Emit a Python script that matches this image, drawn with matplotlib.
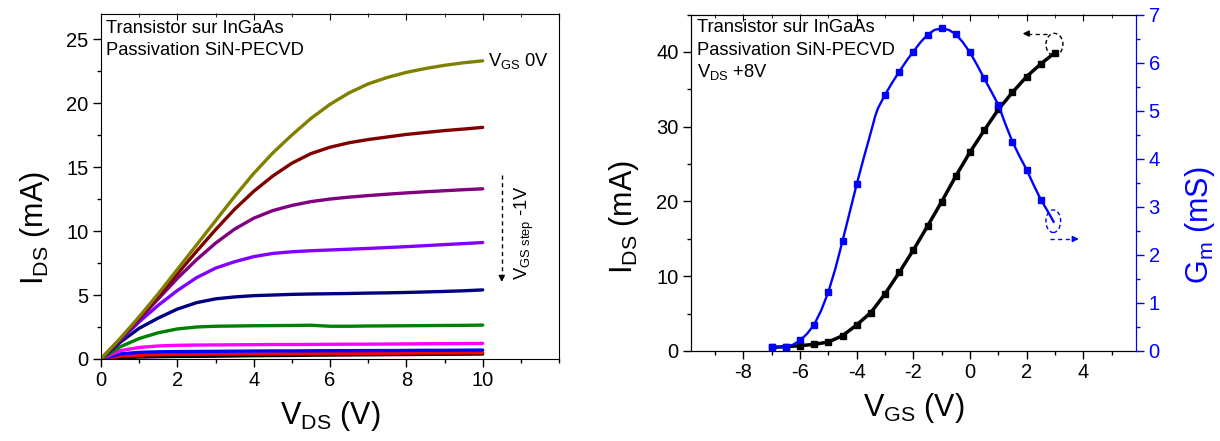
import numpy as np
import matplotlib
matplotlib.use("Agg")
import matplotlib.pyplot as plt
from matplotlib.patches import Ellipse
from matplotlib.ticker import MultipleLocator

plt.rcParams['font.family'] = ['Liberation Sans', 'DejaVu Sans']
plt.rcParams['mathtext.fontset'] = 'custom'
plt.rcParams['mathtext.rm'] = 'Liberation Sans'
plt.rcParams['mathtext.it'] = 'Liberation Sans'
plt.rcParams['axes.unicode_minus'] = False

# ---------------- Data: output characteristics (left) ----------------
vds_grid = [0, 0.5, 1, 1.5, 2, 2.5, 3, 3.5, 4, 4.5, 5, 5.5, 6, 6.5, 7, 7.5, 8, 8.5, 9, 9.5, 10]
ids_vgs0 = [0, 1.6, 3.3, 5.1, 7.0, 8.9, 10.8, 12.7, 14.5, 16.1, 17.5, 18.8, 19.9, 20.8, 21.5, 22.0, 22.4, 22.7, 22.95, 23.15, 23.3]
ids_vgs1 = [0, 1.55, 3.2, 4.9, 6.65, 8.4, 10.1, 11.7, 13.1, 14.3, 15.3, 16.05, 16.55, 16.9, 17.15, 17.35, 17.55, 17.7, 17.85, 17.97, 18.1]
ids_vgs2 = [0, 1.5, 3.1, 4.7, 6.3, 7.75, 9.05, 10.15, 11.0, 11.6, 12.0, 12.3, 12.5, 12.65, 12.77, 12.88, 12.98, 13.07, 13.15, 13.23, 13.3]
ids_vgs3 = [0, 1.45, 2.9, 4.2, 5.35, 6.35, 7.1, 7.6, 8.0, 8.25, 8.38, 8.46, 8.52, 8.58, 8.64, 8.71, 8.78, 8.86, 8.94, 9.02, 9.1]
ids_vgs4 = [0, 1.3, 2.4, 3.2, 3.9, 4.4, 4.7, 4.85, 4.95, 5.0, 5.05, 5.08, 5.1, 5.12, 5.15, 5.17, 5.2, 5.24, 5.28, 5.33, 5.4]
ids_vgs5 = [0, 0.95, 1.6, 2.05, 2.35, 2.5, 2.56, 2.58, 2.6, 2.61, 2.62, 2.64, 2.56, 2.56, 2.58, 2.59, 2.6, 2.61, 2.62, 2.63, 2.65]
ids_vgs6 = [0, 0.65, 0.9, 1.02, 1.07, 1.09, 1.1, 1.11, 1.12, 1.13, 1.13, 1.14, 1.15, 1.16, 1.16, 1.17, 1.18, 1.19, 1.2, 1.21, 1.22]
ids_vgs7 = [0, 0.4, 0.52, 0.56, 0.58, 0.59, 0.6, 0.61, 0.62, 0.63, 0.63, 0.64, 0.65, 0.65, 0.66, 0.66, 0.67, 0.68, 0.68, 0.69, 0.70]
ids_vgs8 = [0, 0.22, 0.3, 0.34, 0.36, 0.37, 0.38, 0.39, 0.4, 0.41, 0.41, 0.42, 0.43, 0.44, 0.44, 0.45, 0.46, 0.47, 0.47, 0.48, 0.49]
ids_vgs9 = [0, 0.1, 0.15, 0.18, 0.2, 0.21, 0.22, 0.24, 0.26, 0.27, 0.28, 0.3, 0.31, 0.32, 0.33, 0.34, 0.35, 0.36, 0.37, 0.38, 0.39]
out_series = [ids_vgs9, ids_vgs8, ids_vgs7, ids_vgs6, ids_vgs5, ids_vgs4, ids_vgs3, ids_vgs2, ids_vgs1, ids_vgs0]
out_colors = ['#000000', '#ff0000', '#0000ff', '#ff00ff', '#008000', '#000080', '#8000ff', '#800080', '#800000', '#808000']

# ---------------- Data: transfer characteristics (right) ----------------
vgs_ids = [-7, -6.5, -6, -5.5, -5, -4.5, -4, -3.5, -3, -2.5, -2, -1.5, -1, -0.5, 0, 0.5, 1, 1.5, 2, 2.5, 3]
ids_transfer = [0.49, 0.58, 0.71, 0.89, 1.2, 2.05, 3.49, 5.14, 7.64, 10.5, 13.5, 16.7, 19.97, 23.4, 26.6, 29.5, 32.3, 34.6, 36.7, 38.4, 39.9]

vgs_gm = [-7, -6.75, -6.5, -6.25, -6, -5.75, -5.5, -5.25, -5, -4.75, -4.5, -4.25, -4, -3.75, -3.5, -3.35, -3.25,
          -3, -2.75, -2.5, -2.25, -2, -1.75, -1.5, -1.25, -1, -0.75, -0.5, -0.25, 0, 0.25, 0.5, 0.75, 1,
          1.25, 1.5, 1.75, 2, 2.25, 2.5, 2.75, 2.95]
gm_transfer = [0.077, 0.08, 0.09, 0.13, 0.22, 0.36, 0.55, 0.85, 1.23, 1.72, 2.29, 2.88, 3.47, 4.02, 4.55, 4.88, 5.05,
               5.33, 5.58, 5.81, 6.03, 6.23, 6.42, 6.58, 6.68, 6.71, 6.68, 6.59, 6.42, 6.21, 5.95, 5.67, 5.40, 5.12,
               4.72, 4.35, 4.05, 3.77, 3.45, 3.15, 2.90, 2.69]
gm_marked_vgs = [-7, -6.5, -6, -5.5, -5, -4.5, -4, -3, -2.5, -2, -1.5, -1, -0.5, 0, 0.5, 1, 1.5, 2, 2.5]

W, H = 1220, 441
fig = plt.figure(figsize=(W / 100, H / 100), dpi=100)

def frac(x0, y0, x1, y1):
    return [x0 / W, 1 - y1 / H, (x1 - x0) / W, (y1 - y0) / H]

TICK_FS = 14.5
LABEL_FS = 22
TEXT_FS = 13.2

# ---------------- Left panel ----------------
ax1 = fig.add_axes(frac(101, 13.5, 559, 359))
for ys, c in zip(out_series, out_colors):
    ax1.plot(vds_grid, ys, color=c, lw=2.4, solid_capstyle='round', solid_joinstyle='round')
ax1.set_xlim(0, 12)
ax1.set_ylim(0, 27)
ax1.xaxis.set_major_locator(MultipleLocator(2))
ax1.xaxis.set_minor_locator(MultipleLocator(1))
ax1.yaxis.set_major_locator(MultipleLocator(5))
ax1.yaxis.set_minor_locator(MultipleLocator(2.5))
ax1.set_xticks([0, 2, 4, 6, 8, 10])
ax1.tick_params(axis='both', which='major', direction='out', length=5.5, width=1, labelsize=TICK_FS)
ax1.tick_params(axis='both', which='minor', direction='out', length=3, width=1)
ax1.set_xlabel(r'V$_{\mathregular{DS}}$ (V)', fontsize=LABEL_FS, labelpad=6)
ax1.set_ylabel(r'I$_{\mathregular{DS}}$ (mA)', fontsize=LABEL_FS)
ax1.yaxis.set_label_coords(-0.108, 0.379)
top1 = ax1.secondary_xaxis('top')
top1.xaxis.set_major_locator(MultipleLocator(2))
top1.xaxis.set_minor_locator(MultipleLocator(1))
top1.tick_params(which='major', direction='in', length=5, labeltop=False)
top1.tick_params(which='minor', direction='in', length=3)
top1.spines['top'].set_visible(False)

ax1.text(0.011, 0.944, 'Transistor sur InGaAs', transform=ax1.transAxes, fontsize=TEXT_FS, va='baseline')
ax1.text(0.011, 0.880, 'Passivation SiN-PECVD', transform=ax1.transAxes, fontsize=TEXT_FS, va='baseline')
ax1.text(10.15, 22.9, r'V$_{\mathregular{GS}}$ 0V', fontsize=TEXT_FS, va='baseline')
ax1.plot([10.5, 10.5], [14.4, 6.3], ls=(0, (3, 2.5)), color='k', lw=1)
ax1.annotate('', xy=(10.5, 5.8), xytext=(10.5, 6.6),
             arrowprops=dict(arrowstyle='-|>', color='k', lw=1, mutation_scale=9))
ax1.text(11.1, 9.9, r'V$_{\mathregular{GS\ step}}$ -1V', fontsize=TEXT_FS, rotation=90,
         ha='center', va='center')

# ---------------- Right panel ----------------
ax2 = fig.add_axes(frac(691, 14.5, 1136, 351))
ax2.plot(vgs_ids, ids_transfer, color='k', lw=2.5, marker='s', markersize=4.6, zorder=3)
ax2.set_xlim(-9.85, 5.86)
ax2.set_ylim(0, 45)
ax2.set_xticks([-8, -6, -4, -2, 0, 2, 4])
ax2.xaxis.set_minor_locator(MultipleLocator(1))
ax2.yaxis.set_major_locator(MultipleLocator(10))
ax2.yaxis.set_minor_locator(MultipleLocator(5))
ax2.tick_params(axis='both', which='major', direction='out', length=5.5, width=1, labelsize=TICK_FS)
ax2.tick_params(axis='both', which='minor', direction='out', length=3, width=1)
ax2.tick_params(axis='y', right=False)
ax2.set_xlabel(r'V$_{\mathregular{GS}}$ (V)', fontsize=LABEL_FS, labelpad=6)
ax2.set_ylabel(r'I$_{\mathregular{DS}}$ (mA)', fontsize=LABEL_FS)
ax2.yaxis.set_label_coords(-0.112, 0.397)
top2 = ax2.secondary_xaxis('top')
top2.set_xticks([-8, -6, -4, -2, 0, 2, 4])
top2.xaxis.set_minor_locator(MultipleLocator(1))
top2.tick_params(which='major', direction='in', length=5, labeltop=False)
top2.tick_params(which='minor', direction='in', length=3)
top2.spines['top'].set_visible(False)

ax3 = ax2.twinx()
gm_v = np.array(vgs_gm)
mask = [any(np.isclose(v, m) for m in gm_marked_vgs) for v in gm_v]
ax3.plot(vgs_gm, gm_transfer, color='#0000ff', lw=1.7, marker='s', markersize=5,
         markevery=mask, zorder=2)
ax3.set_ylim(0, 7)
ax3.yaxis.set_major_locator(MultipleLocator(1))
ax3.yaxis.set_minor_locator(MultipleLocator(0.5))
ax3.tick_params(axis='y', which='major', direction='out', length=5.5, width=1, colors='#0000ff',
                labelsize=TICK_FS)
ax3.tick_params(axis='y', which='minor', direction='out', length=3, width=1, colors='#0000ff')
ax3.spines['right'].set_color('#0000ff')
ax3.set_ylabel(r'G$_{\mathregular{m}}$ (mS)', fontsize=LABEL_FS, color='#0000ff')
ax3.yaxis.set_label_coords(1.105, 0.374)

ax2.text(0.0135, 0.947, 'Transistor sur InGaAs', transform=ax2.transAxes, fontsize=TEXT_FS, va='baseline')
ax2.text(0.0135, 0.880, 'Passivation SiN-PECVD', transform=ax2.transAxes, fontsize=TEXT_FS, va='baseline')
ax2.text(0.0135, 0.814, r'V$_{\mathregular{DS}}$ +8V', transform=ax2.transAxes, fontsize=TEXT_FS, va='baseline')

# black ellipse + arrow (left axis)
ax2.add_patch(Ellipse((2.98, 41.0), 0.6, 2.95, fill=False, ls=(0, (3, 2)), lw=1, color='k', zorder=4))
ax2.plot([2.72, 2.1], [42.45, 42.45], ls=(0, (3, 2.5)), color='k', lw=1)
ax2.annotate('', xy=(1.76, 42.45), xytext=(2.1, 42.45),
             arrowprops=dict(arrowstyle='-|>', color='k', lw=1, mutation_scale=9))
# blue ellipse + arrow (right axis)
ax3.add_patch(Ellipse((2.94, 2.70), 0.52, 0.47, fill=False, ls=(0, (3, 2)), lw=1, color='#0000ff', zorder=4))
ax3.plot([2.82, 3.6], [2.33, 2.33], ls=(0, (3, 2.5)), color='#0000ff', lw=1)
ax3.annotate('', xy=(3.94, 2.33), xytext=(3.6, 2.33),
             arrowprops=dict(arrowstyle='-|>', color='#0000ff', lw=1, mutation_scale=9))

fig.savefig('out.png', dpi=100)
